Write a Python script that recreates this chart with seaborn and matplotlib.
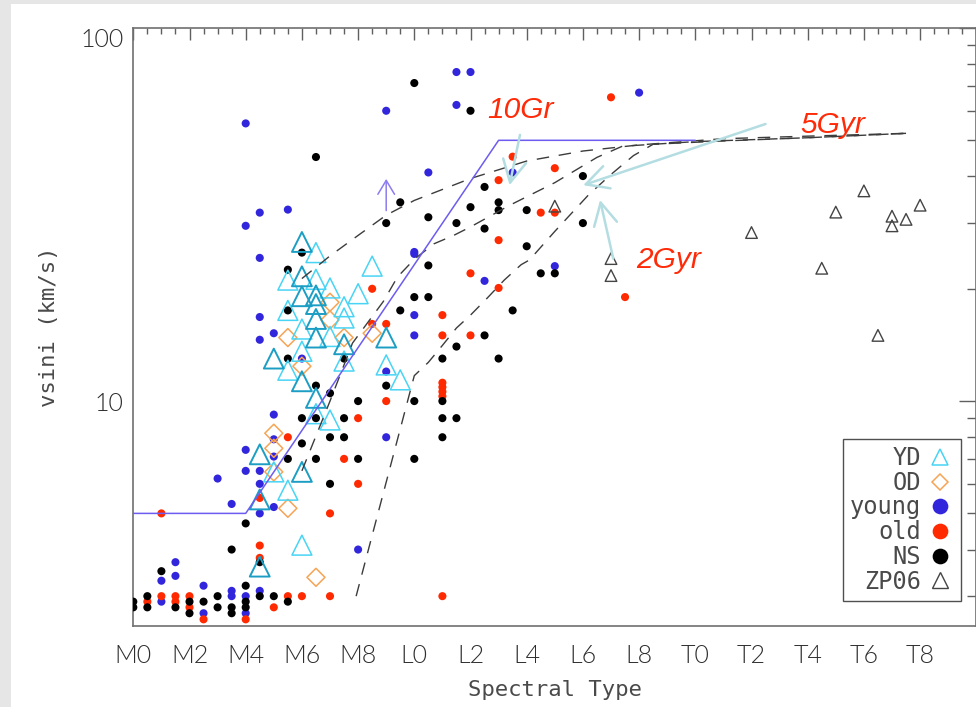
import numpy as np
import pandas as pd
import matplotlib
matplotlib.use("Agg")
import matplotlib.pyplot as plt
from matplotlib.lines import Line2D
from matplotlib.patches import Rectangle
from matplotlib.ticker import FixedLocator, FixedFormatter, MultipleLocator, NullFormatter
import seaborn as sns

# ---------------- data ----------------
# spectral type as a number: M0 = 0, L0 = 10, T0 = 20
spt_ticks = list(range(0, 30, 2))
spt_labels = ["M0", "M2", "M4", "M6", "M8", "L0", "L2", "L4", "L6", "L8",
              "T0", "T2", "T4", "T6", "T8"]

young_spt = [1.0, 1.0, 1.5, 1.5, 2.5, 2.5, 3.0, 3.5, 3.5, 3.5,
             4.0, 4.0, 4.0, 4.0, 4.0, 4.0,
             4.5, 4.5, 4.5, 4.5, 4.5, 4.5, 4.5, 4.5,
             5.0, 5.0, 5.0, 5.0, 5.0, 5.5, 6.0, 8.0,
             9.0, 9.0, 9.0, 10.0, 10.0, 10.0, 10.0, 10.5,
             11.5, 11.5, 12.0, 12.5, 13.5, 15.0, 18.0]
young_vsini = [3.3, 2.9, 3.7, 3.4, 3.2, 2.7, 6.2, 5.3, 3.1, 3.0,
               55.5, 29.5, 7.4, 6.5, 3.0, 2.7,
               32.0, 24.2, 16.8, 14.6, 6.5, 6.0, 5.0, 3.1,
               15.2, 9.2, 7.9, 7.1, 5.2, 32.6, 13.0, 4.0,
               60.0, 12.0, 8.0, 25.1, 24.8, 17.0, 15.0, 41.0,
               76.2, 62.2, 76.2, 21.0, 41.0, 23.0, 67.1]

old_spt = [0.5, 1.0, 1.0, 1.5, 1.5, 2.0, 2.0, 2.5, 4.0,
           4.5, 4.5, 4.5, 5.0, 5.5, 5.5, 6.0, 7.0, 7.0, 7.5, 8.0, 8.0,
           8.5, 8.5, 9.0, 9.0,
           11.0, 11.0, 11.0, 11.0, 11.0, 11.0, 11.0,
           12.0, 12.0, 13.0, 13.0, 13.0, 13.5, 14.5, 15.0, 15.0, 17.0, 17.5]
old_vsini = [2.9, 5.0, 3.0, 3.0, 2.9, 3.0, 2.8, 2.6, 2.6,
             5.5, 4.1, 3.8, 2.8, 8.0, 3.0, 3.0, 5.0, 3.0, 7.0, 9.0, 6.0,
             20.0, 16.1, 16.1, 10.0,
             17.0, 15.0, 11.2, 10.9, 10.6, 10.3, 3.0,
             22.0, 15.0, 39.1, 27.0, 20.1, 45.2, 32.0, 42.1, 32.0, 65.2, 19.0]

ns_spt = [0.0, 0.0, 0.5, 0.5, 1.0, 1.5, 2.0, 2.0, 2.5, 3.0, 3.0,
          3.5, 3.5, 3.5, 4.0, 4.0, 4.0, 4.0, 4.5, 4.5, 5.0,
          5.5, 5.5, 5.5, 5.5, 5.5, 6.0, 6.0, 6.0,
          6.5, 6.5, 6.5, 6.5, 7.0, 7.0, 7.0, 7.5, 7.5, 7.5, 8.0, 8.0,
          9.0, 9.0, 9.5, 9.5, 10.0, 10.0, 10.0, 10.0, 10.5, 10.5, 10.5,
          11.0, 11.0, 11.0, 11.0, 11.5, 11.5, 11.5, 12.0, 12.0,
          12.5, 12.5, 12.5, 13.0, 13.0, 13.0, 13.5, 14.0, 14.0,
          14.5, 15.0, 16.0, 16.0]
ns_vsini = [2.9, 2.8, 3.0, 2.8, 3.5, 2.8, 2.9, 2.7, 2.9, 3.0, 2.8,
            4.0, 2.8, 2.7, 4.7, 3.2, 2.9, 2.8, 3.7, 3.0, 3.0,
            22.5, 17.5, 13.0, 7.0, 2.9, 25.0, 9.0, 7.7,
            45.1, 11.0, 9.0, 7.0, 10.5, 8.0, 6.0, 13.0, 9.0, 8.0, 10.0, 7.0,
            30.0, 11.0, 34.1, 17.5, 71.2, 19.0, 10.0, 7.0, 31.1, 23.1, 19.0,
            13.0, 10.0, 9.0, 8.0, 30.0, 14.0, 9.0, 60.0, 33.1,
            37.5, 29.0, 15.0, 34.1, 32.5, 13.0, 17.5, 32.5, 26.0,
            22.0, 22.0, 40.1, 30.0]

# young dwarfs; "dark" entries are the doubled (darker) outlines
yd_spt = [4.5, 4.5, 4.5, 5.0, 5.0,
          5.5, 5.5, 5.5, 5.5,
          6.0, 6.0, 6.0, 6.0, 6.0, 6.0, 6.0, 6.0,
          6.5, 6.5, 6.5, 6.5, 6.5, 6.5, 6.5, 6.5,
          7.0, 7.0, 7.0, 7.5, 7.5, 7.5, 7.5,
          8.0, 8.5, 9.0, 9.0, 9.5]
yd_vsini = [7.2, 5.45, 3.6, 13.0, 6.46,
            21.1, 17.5, 12.1, 5.77,
            26.7, 21.6, 19.1, 15.6, 13.6, 11.3, 6.46, 4.11,
            25.0, 21.2, 19.2, 18.2, 16.6, 14.8, 10.2, 9.25,
            20.1, 14.9, 8.9, 17.9, 16.7, 14.2, 12.8,
            19.4, 23.0, 14.8, 12.5, 11.4]
yd_shade = ["dark", "dark", "dark", "dark", "light",
            "light", "light", "light", "light",
            "dark", "dark", "dark", "light", "light", "dark", "dark", "light",
            "light", "light", "dark", "dark", "dark", "dark", "dark", "light",
            "light", "light", "light", "light", "light", "dark", "light",
            "light", "light", "dark", "light", "light"]

od_spt = [5.0, 5.0, 5.0, 5.5, 5.5, 6.0, 6.5, 7.0, 7.0, 7.5, 8.5]
od_vsini = [8.2, 7.47, 6.46, 14.8, 5.16, 12.4, 3.37, 18.4, 16.5, 14.8, 15.2]

zp_spt = [15.0, 17.0, 17.0, 22.0, 24.5, 25.0, 26.0, 26.5, 27.0, 27.0, 27.5, 28.0]
zp_vsini = [33.3, 24.1, 21.7, 28.3, 22.7, 32.1, 36.6, 15.0, 31.3, 29.5, 30.7, 33.5]

# spin-evolution tracks
iso_a_spt = [6.0, 7.0, 8.0, 9.0, 10.0, 12.0, 14.0, 16.0, 18.0, 21.0, 24.0, 27.5]
iso_a_vsini = [21.3, 24.5, 27.8, 31.5, 34.5, 39.5, 44.0, 46.8, 48.6, 50.5, 51.3, 52.2]
iso_b_spt = [6.0, 7.0, 7.8, 8.9, 9.4, 10.0, 10.7, 11.4, 12.0, 13.4, 15.0, 16.5, 17.4, 20.0, 24.0, 27.5]
iso_b_vsini = [6.5, 10.0, 14.3, 18.5, 21.5, 24.0, 26.4, 27.8, 29.3, 33.5, 38.5, 45.0, 48.2, 49.6, 50.8, 52.2]
iso_c_spt = [7.93, 10.0, 10.5, 11.0, 11.5, 12.0, 12.6, 13.2, 13.8, 14.1, 15.0, 16.2, 17.0, 17.8, 18.5, 21.0, 24.0, 27.5]
iso_c_vsini = [3.0, 11.7, 12.7, 14.1, 15.7, 17.0, 18.9, 21.1, 23.2, 23.9, 28.5, 35.7, 40.5, 45.5, 48.8, 49.8, 50.8, 52.2]

limit_spt = [0.0, 4.0, 13.0, 20.0]
limit_vsini = [5.0, 5.0, 50.0, 50.0]

# ---------------- styling ----------------
sns.set_theme(style="white")
plt.rcParams["font.family"] = ["Lato", "DejaVu Sans"]

C_YD_LIGHT = "#48d4f4"
C_YD_DARK = "#1c9ec4"
C_OD = "#f6a455"
C_YOUNG = "#3226dc"
C_OLD = "#ff2a00"
C_NS = "#000000"
C_ZP = "#444444"
C_TEXT = "#2e2e2e"
C_LABEL = "#4a4a4a"
C_LIMIT = "#6c5cf0"
C_ARROW = "#b4dde2"
C_RED = "#ff2a08"
FW = 300  # light text weight
MONO = ["DejaVu Sans Mono", "DejaVu Sans"]

W, H = 976, 707
fig = plt.figure(figsize=(W / 100, H / 100), dpi=100)
fig.patch.set_facecolor("#e6e6e6")
fig.add_artist(Rectangle((11 / W, 0), 1, (H - 4) / H, transform=fig.transFigure,
                         facecolor="white", edgecolor="none", zorder=-5))

ax_l, ax_r, ax_t, ax_b = 133.3, 976.3, 28.0, 625.7
ax = fig.add_axes([ax_l / W, 1 - ax_b / H, (ax_r - ax_l) / W, (ax_b - ax_t) / H])
ax.set_facecolor("white")

df = pd.concat([
    pd.DataFrame({"spt": young_spt, "vsini": young_vsini, "group": "young"}),
    pd.DataFrame({"spt": old_spt, "vsini": old_vsini, "group": "old"}),
    pd.DataFrame({"spt": ns_spt, "vsini": ns_vsini, "group": "NS"}),
    pd.DataFrame({"spt": od_spt, "vsini": od_vsini, "group": "OD"}),
    pd.DataFrame({"spt": zp_spt, "vsini": zp_vsini, "group": "ZP06"}),
], ignore_index=True)
yd = pd.DataFrame({"spt": yd_spt, "vsini": yd_vsini, "shade": yd_shade})

ax.set_yscale("log")

# filled dots
for g, c in [("young", C_YOUNG), ("old", C_OLD), ("NS", C_NS)]:
    sns.scatterplot(data=df[df.group == g], x="spt", y="vsini", ax=ax,
                    marker="o", s=34, color=c, edgecolor="none",
                    linewidth=0, legend=False, zorder=3)

# open symbols
sns.scatterplot(data=df[df.group == "OD"], x="spt", y="vsini", ax=ax,
                marker="D", s=84, color=C_OD, facecolor="none",
                edgecolor=C_OD, linewidth=1.1, legend=False, zorder=4)
for shade, c, lw in [("light", C_YD_LIGHT, 1.1), ("dark", C_YD_DARK, 1.4)]:
    sns.scatterplot(data=yd[yd.shade == shade], x="spt", y="vsini", ax=ax,
                    marker="^", s=205, color=c, facecolor="none",
                    edgecolor=c, linewidth=lw, legend=False, zorder=4)
sns.scatterplot(data=df[df.group == "ZP06"], x="spt", y="vsini", ax=ax,
                marker="^", s=70, color=C_ZP, facecolor="none",
                edgecolor=C_ZP, linewidth=1.0, legend=False, zorder=4)

# tracks
for xs, ys in [(iso_a_spt, iso_a_vsini), (iso_b_spt, iso_b_vsini), (iso_c_spt, iso_c_vsini)]:
    sns.lineplot(x=xs, y=ys, ax=ax, sort=False, estimator=None, color="#3c3c3c",
                 linewidth=1.0, linestyle=(0, (9, 7)), zorder=5)
sns.lineplot(x=limit_spt, y=limit_vsini, ax=ax, sort=False, estimator=None,
             color=C_LIMIT, linewidth=1.1, zorder=5)

# lower-limit arrow
ax.annotate("", xy=(9.0, 39.4), xytext=(9.0, 32.4),
            arrowprops=dict(arrowstyle="->,head_length=0.5,head_width=0.3",
                            mutation_scale=20, color="#8c7cf0", lw=1.1,
                            shrinkA=0, shrinkB=0), zorder=6)

# age labels and pointers
for tip, tail in [((13.39, 37.9), (13.76, 51.7)),
                  ((16.01, 37.9), (22.5, 55.3)),
                  ((16.61, 34.6), (17.08, 24.1))]:
    ax.annotate("", xy=tip, xytext=tail,
                arrowprops=dict(arrowstyle="->,head_length=0.8,head_width=0.42",
                                mutation_scale=20, color=C_ARROW, lw=1.8,
                                shrinkA=0, shrinkB=0), zorder=6)
for txt, x, y in [("10Gr", 12.58, 57.3), ("5Gyr", 23.73, 52.2), ("2Gyr", 17.91, 22.7)]:
    ax.text(x, y, txt, color=C_RED, fontsize=21.5, style="italic",
            family=["Liberation Sans", "DejaVu Sans"], ha="left", va="baseline", zorder=7)

# axes
ax.set_xlim(0, 30)
ax.set_ylim(2.5, 100)
ax.xaxis.set_major_locator(FixedLocator(spt_ticks))
ax.xaxis.set_major_formatter(FixedFormatter(spt_labels))
ax.xaxis.set_minor_locator(MultipleLocator(0.5))
ax.yaxis.set_major_locator(FixedLocator([10, 100]))
ax.yaxis.set_major_formatter(FixedFormatter(["10", "100"]))
ax.yaxis.set_minor_locator(FixedLocator([3, 4, 5, 6, 7, 8, 9, 20, 30, 40, 50, 60, 70, 80, 90]))
ax.yaxis.set_minor_formatter(NullFormatter())

for sp in ax.spines.values():
    sp.set_color("#707070")
    sp.set_linewidth(1.2)

tick_kw = dict(direction="in", top=True, right=True, color="#606060", width=1.0,
               labelcolor=C_TEXT, labelsize=18)
ax.tick_params(axis="x", which="major", length=8.6, pad=13, **tick_kw)
ax.tick_params(axis="x", which="minor", length=4.3, **tick_kw)
ax.tick_params(axis="y", which="major", length=12, pad=7, **tick_kw)
ax.tick_params(axis="y", which="minor", length=6.5, **tick_kw)
for lab in ax.get_xticklabels() + ax.get_yticklabels():
    lab.set_fontweight(FW)
ax.get_yticklabels()[1].set_verticalalignment("top")

ax.set_xlabel("Spectral Type", fontsize=16, color=C_LABEL, family=MONO, va="baseline")
ax.set_ylabel("vsini (km/s)", fontsize=16, color=C_LABEL, family=MONO, va="center")
ax.xaxis.set_label_coords(0.5, (ax_b - 696) / (ax_b - ax_t))
ax.yaxis.set_label_coords((49 - ax_l) / (ax_r - ax_l), 0.5)

# legend with symbols to the right of the labels
handles = [
    Line2D([], [], ls="none", marker="^", ms=11.5, mfc="none", mec=C_YD_LIGHT, mew=1.1),
    Line2D([], [], ls="none", marker="D", ms=8.0, mfc="none", mec=C_OD, mew=1.1),
    Line2D([], [], ls="none", marker="o", ms=11.3, mfc=C_YOUNG, mec="none"),
    Line2D([], [], ls="none", marker="o", ms=11.3, mfc=C_OLD, mec="none"),
    Line2D([], [], ls="none", marker="o", ms=11.3, mfc=C_NS, mec="none"),
    Line2D([], [], ls="none", marker="^", ms=11.5, mfc="none", mec=C_ZP, mew=1.0),
]
labels = ["YD", "OD", "young", "old", "NS", "ZP06"]
leg = ax.legend(handles, labels, loc="lower right",
                bbox_to_anchor=((961 - ax_l) / (ax_r - ax_l), (ax_b - 600.7) / (ax_b - ax_t)),
                borderaxespad=0, markerfirst=False, frameon=True, fancybox=False,
                framealpha=1, edgecolor="#505050", handlelength=1.2,
                prop={"family": MONO, "size": 17},
                handletextpad=0.2, borderpad=0.3, labelspacing=0.03)
leg.get_frame().set_linewidth(1.0)
for t in leg.get_texts():
    t.set_color(C_LABEL)
leg.set_zorder(10)

fig.savefig("out.png", dpi=100)
